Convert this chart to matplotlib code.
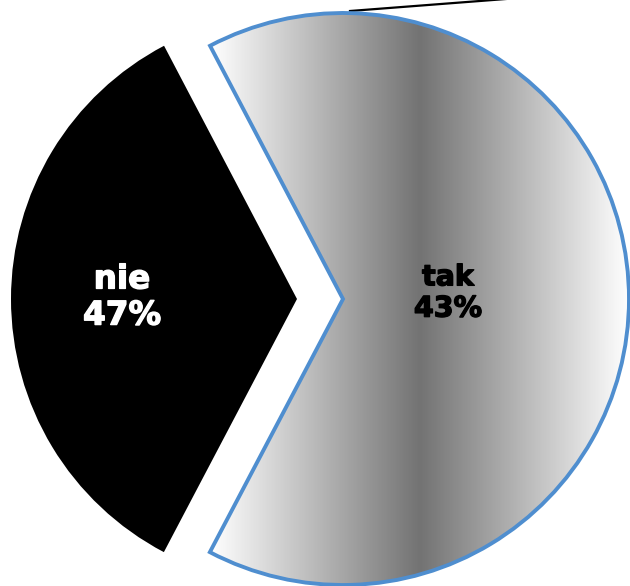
import numpy as np
import matplotlib
matplotlib.use("Agg")
import matplotlib.pyplot as plt
import matplotlib.patheffects as pe

# Pie data
categories = ["tak", "nie"]
slice_share = [65.4, 34.6]
label_pct = [43, 47]
label_colors = ["black", "white"]

fig = plt.figure(figsize=(6.3, 5.86), dpi=100)
ax = fig.add_axes([0, 0, 1, 1])

wedges, _ = ax.pie(
    slice_share,
    center=(320, 287),
    radius=286,
    startangle=117.7,
    counterclock=False,
    explode=[23, 23],
    colors=["none", "black"],
    wedgeprops=dict(linewidth=0),
)
ax.set_xlim(0, 630)
ax.set_ylim(0, 586)
ax.set_aspect("equal")
ax.axis("off")

# horizontal white-grey-white gradient for the "tak" slice
tak = wedges[0]
tak.set_edgecolor("#4f8ecf")
tak.set_linewidth(2.8)
tak.set_joinstyle("miter")
tak.set_zorder(4)
bb = tak.get_path().get_extents(tak.get_patch_transform())
t = np.linspace(0, 1, 512)
grad = 0.45 + 0.55 * np.abs(2 * t - 1)
img = ax.imshow(
    grad[np.newaxis, :],
    cmap="gray",
    vmin=0,
    vmax=1,
    extent=[bb.x0, bb.x1, bb.y0, bb.y1],
    aspect="auto",
    interpolation="bicubic",
    zorder=2,
)
img.set_clip_path(tak)
ax.set_xlim(0, 630)
ax.set_ylim(0, 586)

# leader line to the outside label
ax.plot([350, 650], [575, 598.1], color="black", lw=1.6, zorder=3)

# slice labels
ax.text(448, 293, f"{categories[0]}\n{label_pct[0]}%", ha="center", va="center",
        color=label_colors[0], fontsize=20.5, fontweight="bold", linespacing=1.15, zorder=5,
        path_effects=[pe.withStroke(linewidth=1.0, foreground=label_colors[0])])
ax.text(122, 289, f"{categories[1]}\n{label_pct[1]}%", ha="center", va="center",
        color=label_colors[1], fontsize=23.5, fontweight="bold", linespacing=1.12, zorder=5,
        path_effects=[pe.withStroke(linewidth=1.0, foreground=label_colors[1])])

fig.savefig("out.png", dpi=100)
